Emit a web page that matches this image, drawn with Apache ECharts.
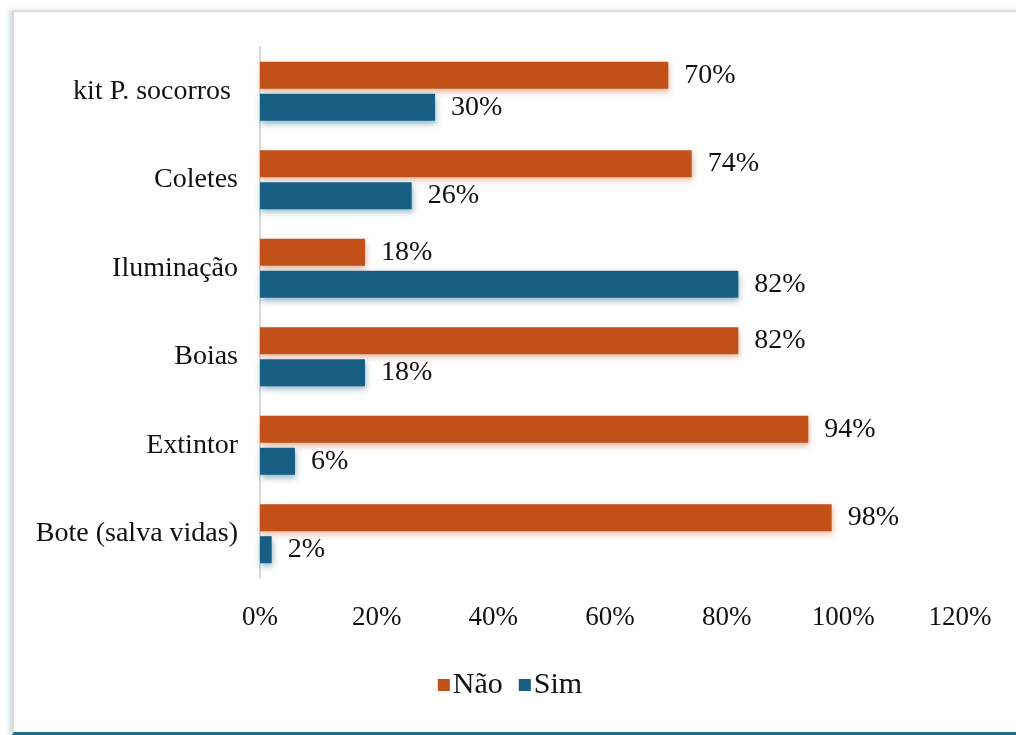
<!DOCTYPE html>
<html>
<head>
<meta charset="utf-8">
<script src="https://cdn.jsdelivr.net/npm/echarts@6/dist/echarts.min.js"></script>
<style>
  html, body { margin: 0; padding: 0; background: #fff; }
  .frame {
    position: absolute; left: 12px; top: 10px; width: 1010px; height: 720px;
    border-top: 2px solid #dcdcdc; border-left: 2px solid #dcdcdc;
    border-bottom: 3px solid #1f6b8e;
    box-shadow: -3px 0 4px rgba(120,170,190,0.35);
    background: #fff;
  }
  #chart { position: absolute; left: -12px; top: -10px; width: 1016px; height: 735px; }
</style>
</head>
<body>
<div class="frame"><div id="chart"></div></div>
<script>
// categories bottom -> top (category axis runs upward)
const categories = ['Bote (salva vidas)', 'Extintor', 'Boias', 'Iluminação', 'Coletes', 'kit P. socorros ']
const naoValues = [98, 94, 82, 18, 74, 70]
const simValues = [2, 6, 18, 82, 26, 30]
const xTicks = [0, 20, 40, 60, 80, 100, 120]

const font = 'Liberation Serif'
const chart = echarts.init(document.getElementById('chart'))

const barShadow = {
  shadowBlur: 6,
  shadowOffsetY: 3,
  shadowOffsetX: 1
}

const valueLabel = {
  show: true, position: 'right', distance: 16, formatter: '{c}%',
  color: '#111', fontFamily: font, fontSize: 28
}

chart.setOption({
  animation: false,
  textStyle: { fontFamily: font },
  grid: { left: 258, right: 58, top: 45, bottom: 159 },
  legend: {
    bottom: 32,
    left: 'center',
    data: ['Não', 'Sim'],
    itemWidth: 12,
    itemHeight: 12,
    itemGap: 16,
    icon: 'rect',
    textStyle: { fontFamily: font, fontSize: 30, color: '#111', padding: [0, 0, 0, -2] }
  },
  xAxis: {
    type: 'value',
    min: xTicks[0],
    max: xTicks[xTicks.length - 1],
    interval: 20,
    axisLine: { show: false },
    axisTick: { show: false },
    splitLine: { show: false },
    axisLabel: {
      formatter: '{value}%',
      margin: 26,
      color: '#111',
      fontFamily: font,
      fontSize: 27
    }
  },
  yAxis: {
    type: 'category',
    data: categories,
    axisLine: { show: true, lineStyle: { color: '#d9d9d9', width: 2 } },
    axisTick: { show: false },
    axisLabel: { margin: 22, color: '#111', fontFamily: font, fontSize: 28 }
  },
  series: [
    {
      name: 'Não',
      type: 'bar',
      data: naoValues,
      barWidth: 27,
      barGap: '18%',
      itemStyle: Object.assign({ color: '#c15118', shadowColor: 'rgba(193,81,24,0.4)' }, barShadow),
      label: valueLabel
    },
    {
      name: 'Sim',
      type: 'bar',
      data: simValues,
      barWidth: 27,
      barGap: '18%',
      itemStyle: Object.assign({ color: '#175e82', shadowColor: 'rgba(23,94,130,0.45)' }, barShadow),
      label: valueLabel
    }
  ]
})
</script>
</body>
</html>
